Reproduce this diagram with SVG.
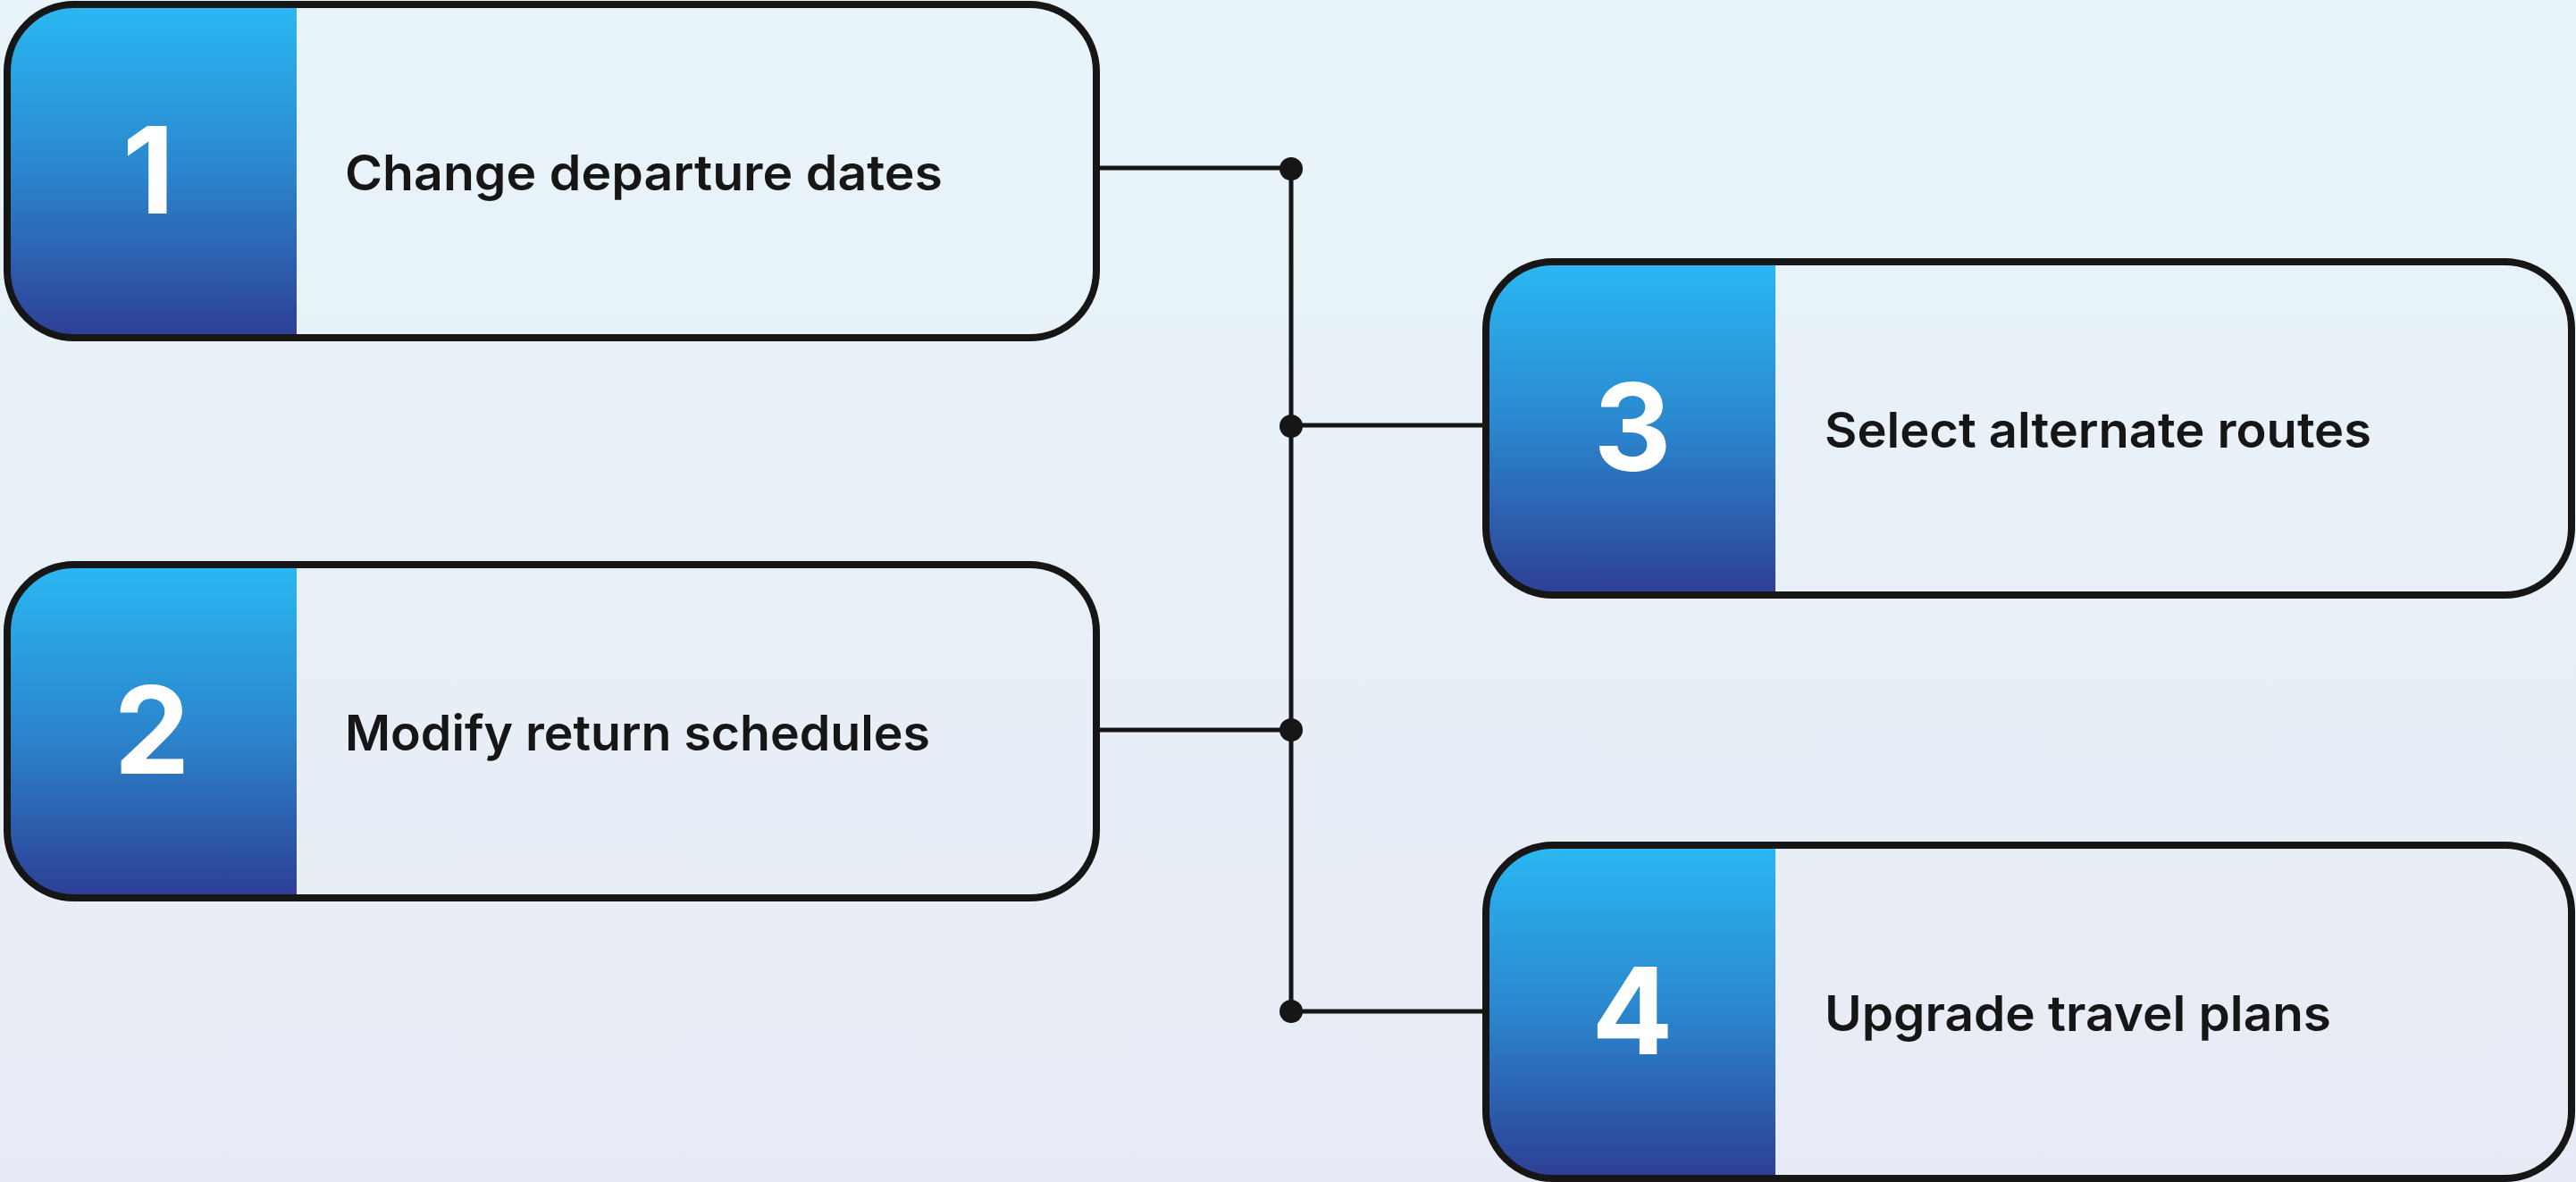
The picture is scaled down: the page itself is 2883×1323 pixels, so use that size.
<svg xmlns="http://www.w3.org/2000/svg" width="2883" height="1323" viewBox="0 0 2883 1323">
  <defs>
    <linearGradient id="bg" x1="0" y1="0" x2="0" y2="1">
      <stop offset="0" stop-color="#E8F4FA"/>
      <stop offset="1" stop-color="#E8EBF5"/>
    </linearGradient>
    <linearGradient id="panel" x1="0" y1="0" x2="0" y2="1">
      <stop offset="0" stop-color="#2AB8F3"/>
      <stop offset="0.5" stop-color="#2B86CD"/>
      <stop offset="1" stop-color="#2D3E95"/>
    </linearGradient>
    <style>
      .box { fill: none; stroke: #161616; stroke-width: 8; }
      .panel { fill: url(#panel); }
      .num { font-family: Inter, "Noto Sans", sans-serif; font-weight: 700; font-size: 135px; fill: #FFFFFF; text-anchor: middle; }
      .lbl { font-family: Inter, "Noto Sans", sans-serif; font-weight: 600; font-size: 55px; fill: #161616; }
      .wire { stroke: #161616; stroke-width: 5; fill: none; }
      .dot { fill: #161616; }
    </style>
  </defs>
  <rect x="0" y="0" width="2883" height="1323" fill="url(#bg)"/>

  <g id="connectors">
    <line class="wire" x1="1445" y1="188" x2="1445" y2="1132"/>
    <line class="wire" x1="1227" y1="188" x2="1445" y2="188"/>
    <line class="wire" x1="1445" y1="476" x2="1663" y2="476"/>
    <line class="wire" x1="1227" y1="817" x2="1445" y2="817"/>
    <line class="wire" x1="1445" y1="1132" x2="1663" y2="1132"/>
    <circle class="dot" cx="1445" cy="189" r="13"/>
    <circle class="dot" cx="1445" cy="477" r="13"/>
    <circle class="dot" cx="1445" cy="817" r="13"/>
    <circle class="dot" cx="1445" cy="1132" r="13"/>
  </g>

  <g id="node1">
    <path class="panel" d="M332,5 H83 A75,75 0 0 0 8,80 V303 A75,75 0 0 0 83,378 H332 Z"/>
    <rect class="box" x="8" y="5" width="1219" height="373" rx="75" ry="75"/>
    <text class="num" x="166" y="238.5">1</text>
    <text class="lbl" x="386" y="213" textLength="669" lengthAdjust="spacingAndGlyphs">Change departure dates</text>
  </g>

  <g id="node2">
    <path class="panel" d="M332,632 H83 A75,75 0 0 0 8,707 V930 A75,75 0 0 0 83,1005 H332 Z"/>
    <rect class="box" x="8" y="632" width="1219" height="373" rx="75" ry="75"/>
    <text class="num" x="170" y="865.5">2</text>
    <text class="lbl" x="386" y="840" textLength="655" lengthAdjust="spacingAndGlyphs">Modify return schedules</text>
  </g>

  <g id="node3">
    <path class="panel" d="M1987,293 H1738 A75,75 0 0 0 1663,368 V591 A75,75 0 0 0 1738,666 H1987 Z"/>
    <rect class="box" x="1663" y="293" width="1215" height="373" rx="75" ry="75"/>
    <text class="num" x="1827" y="526.5">3</text>
    <text class="lbl" x="2042" y="501" textLength="612" lengthAdjust="spacingAndGlyphs">Select alternate routes</text>
  </g>

  <g id="node4">
    <path class="panel" d="M1987,946 H1738 A75,75 0 0 0 1663,1021 V1244 A75,75 0 0 0 1738,1319 H1987 Z"/>
    <rect class="box" x="1663" y="946" width="1215" height="373" rx="75" ry="75"/>
    <text class="num" x="1827" y="1179.5">4</text>
    <text class="lbl" x="2042" y="1154" textLength="567" lengthAdjust="spacingAndGlyphs">Upgrade travel plans</text>
  </g>
</svg>
